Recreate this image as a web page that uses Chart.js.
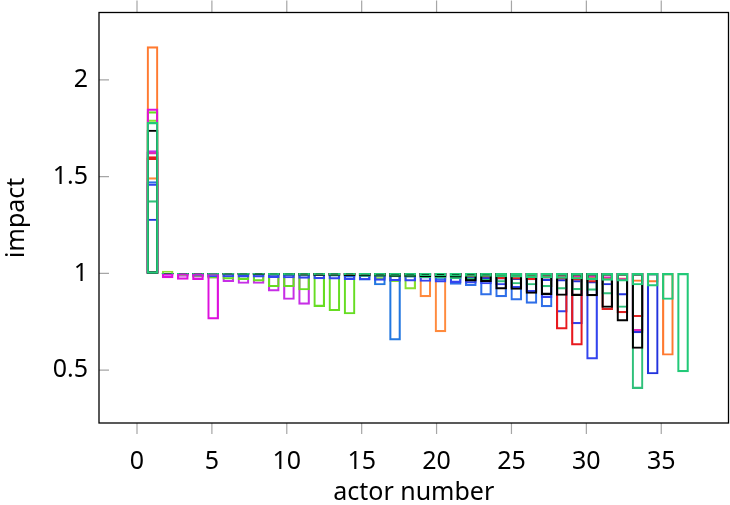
<!DOCTYPE html>
<html lang="en">
<head>
<meta charset="UTF-8">
<title>Actor impact</title>
<script src="https://cdn.jsdelivr.net/npm/chart.js@4"></script>
<style>
    body { margin: 0; background: #fff; }
    #wrap { width: 730px; height: 505px; }
</style>
</head>
<body>
<div id="wrap"><canvas id="impactChart" width="730" height="505"></canvas></div>
<script>
    // impact of each actor, one array per network, actor 1 first
    const netA = [1.780, 0.998, 0.997, 0.997, 0.996, 0.996, 0.995, 0.995, 0.994, 0.994, 0.993, 0.993, 0.992, 0.992, 0.991, 0.990, 0.990, 0.989, 0.988, 0.987, 0.986, 0.985, 0.984, 0.982, 0.980, 0.978, 0.976, 0.974, 0.971, 0.968, 0.964, 0.960, 0.940, 0.934, 0.865, 0.491];
    const netB = [1.376, 0.999, 0.998, 0.997, 0.996, 0.995, 0.994, 0.993, 0.992, 0.991, 0.990, 0.989, 0.988, 0.987, 0.985, 0.984, 0.982, 0.980, 0.978, 0.975, 0.972, 0.968, 0.962, 0.955, 0.945, 0.940, 0.930, 0.919, 0.915, 0.912, 0.893, 0.824, 0.405];
    const netC = [1.741, 0.999, 0.998, 0.998, 0.997, 0.996, 0.995, 0.994, 0.993, 0.992, 0.991, 0.990, 0.989, 0.988, 0.987, 0.986, 0.985, 0.984, 0.983, 0.982, 0.980, 0.960, 0.957, 0.919, 0.917, 0.896, 0.890, 0.886, 0.885, 0.884, 0.824, 0.753, 0.612];
    const netD = [2.172, 0.999, 0.999, 0.998, 0.998, 0.997, 0.997, 0.996, 0.992, 0.991, 0.990, 0.990, 0.989, 0.989, 0.988, 0.988, 0.987, 0.987, 0.986, 0.986, 0.985, 0.985, 0.984, 0.984, 0.983, 0.982, 0.981, 0.980, 0.977, 0.975, 0.972, 0.968, 0.958, 0.955, 0.577];
    const netE = [1.281, 0.998, 0.997, 0.996, 0.995, 0.994, 0.993, 0.992, 0.991, 0.990, 0.989, 0.988, 0.987, 0.986, 0.985, 0.984, 0.983, 0.982, 0.980, 0.978, 0.976, 0.974, 0.972, 0.970, 0.968, 0.966, 0.963, 0.960, 0.955, 0.950, 0.940, 0.888, 0.693, 0.480];
    const netF = [1.462, 0.996, 0.994, 0.990, 0.983, 0.982, 0.981, 0.980, 0.978, 0.976, 0.974, 0.972, 0.970, 0.968, 0.966, 0.964, 0.962, 0.960, 0.958, 0.955, 0.952, 0.950, 0.945, 0.940, 0.925, 0.905, 0.875, 0.800, 0.739, 0.557];
    const netG = [1.603, 0.998, 0.997, 0.997, 0.996, 0.996, 0.995, 0.995, 0.994, 0.993, 0.992, 0.991, 0.990, 0.989, 0.988, 0.987, 0.986, 0.985, 0.985, 0.984, 0.983, 0.982, 0.980, 0.972, 0.970, 0.968, 0.931, 0.712, 0.629];
    const netH = [1.595, 0.999, 0.998, 0.998, 0.997, 0.997, 0.996, 0.996, 0.995, 0.995, 0.994, 0.994, 0.993, 0.993, 0.992, 0.992, 0.991, 0.990, 0.989, 0.988, 0.987, 0.986, 0.985, 0.984, 0.982, 0.980, 0.975, 0.970, 0.965, 0.955, 0.812, 0.796, 0.776];
    const netI = [1.625, 0.999, 0.999, 0.998, 0.998, 0.998, 0.997, 0.997, 0.997, 0.996, 0.996, 0.996, 0.995, 0.995, 0.995, 0.994, 0.994, 0.993, 0.993, 0.992, 0.992, 0.991, 0.990, 0.989, 0.988, 0.987, 0.986, 0.985, 0.983, 0.980, 0.975, 0.965, 0.703];
    const netJ = [1.474, 0.999, 0.998, 0.998, 0.997, 0.997, 0.996, 0.996, 0.995, 0.995, 0.994, 0.993, 0.992, 0.991, 0.990, 0.988, 0.985, 0.980, 0.975, 0.965, 0.943, 0.936, 0.888, 0.879, 0.862, 0.845, 0.827];
    const netK = [1.495, 0.999, 0.998, 0.998, 0.997, 0.997, 0.996, 0.996, 0.995, 0.994, 0.993, 0.992, 0.991, 0.990, 0.989, 0.988, 0.986, 0.983, 0.879, 0.698];
    const netL = [1.627, 0.998, 0.997, 0.996, 0.995, 0.994, 0.993, 0.992, 0.991, 0.990, 0.989, 0.988, 0.986, 0.980, 0.965, 0.940, 0.655];
    const netM = [1.793, 1.012, 0.997, 0.996, 0.995, 0.994, 0.993, 0.992, 0.991, 0.990, 0.989, 0.988, 0.987, 0.986, 0.984, 0.970, 0.957, 0.919];
    const netN = [1.836, 0.995, 0.990, 0.985, 0.975, 0.970, 0.968, 0.960, 0.931, 0.931, 0.914, 0.828, 0.807, 0.790];
    const netO = [1.634, 0.990, 0.985, 0.980, 0.975, 0.957, 0.948, 0.948, 0.908, 0.865, 0.840];
    const netP = [1.850, 0.977, 0.969, 0.968, 0.764];

    const xTicks = [0, 5, 10, 15, 20, 25, 30, 35];
    const yTicks = [0.5, 1, 1.5, 2];

    // first entry is drawn on top
    const networks = [netA, netC, netB, netP, netG, netH, netI, netE, netF, netJ, netD, netK, netL, netM, netN, netO];
    const colors = ['#22c978', '#000000', '#2fc07a', '#dd11dd', '#e8191e', '#dd2222', '#e026b8', '#2233dd',
                    '#3344ee', '#2f6fe8', '#ff7a30', '#ff8a3d', '#2277e0', '#88e030', '#66dd22', '#c72ee6'];

    const datasets = networks.map((vals, i) => ({
        data: vals.map((v, k) => ({ x: k + 1, y: [1, v] })),
        xAxisID: 'actor',
        borderColor: colors[i],
        backgroundColor: 'rgba(0,0,0,0)',
        borderWidth: 1.5,
        borderSkipped: false,
        barThickness: 11,
        grouped: false
    }));

    const font = { family: 'Noto Sans', size: 25 };

    // box around the plot, ticks outside on x and inside on y
    const framePlugin = {
        id: 'frame',
        afterDatasetsDraw(chart) {
            const { ctx, chartArea: a, scales: { x, y } } = chart;
            ctx.save();
            ctx.strokeStyle = '#a6a6a6';
            ctx.lineWidth = 1.2;
            ctx.beginPath();
            xTicks.forEach(v => {
                const px = x.getPixelForValue(v);
                ctx.moveTo(px, a.bottom); ctx.lineTo(px, a.bottom + 11);
                ctx.moveTo(px, a.top - 12); ctx.lineTo(px, a.top);
            });
            yTicks.forEach(v => {
                const py = y.getPixelForValue(v);
                ctx.moveTo(a.left, py); ctx.lineTo(a.left + 10, py);
            });
            ctx.stroke();
            ctx.strokeStyle = '#000';
            ctx.lineWidth = 1.3;
            ctx.strokeRect(a.left, a.top, a.right - a.left, a.bottom - a.top);
            ctx.restore();
        }
    };

    new Chart(document.getElementById('impactChart'), {
        type: 'bar',
        data: { datasets },
        plugins: [framePlugin],
        options: {
            responsive: false,
            animation: false,
            devicePixelRatio: 1,
            layout: { padding: { top: 12.5, right: 1.5, bottom: 0, left: 0 } },
            plugins: { legend: { display: false }, tooltip: { enabled: false } },
            scales: {
                // bars sit on their own slightly wider actor axis
                actor: {
                    type: 'linear',
                    display: false,
                    offset: false,
                    min: -2.53,
                    max: 39.0
                },
                x: {
                    type: 'linear',
                    offset: false,
                    min: -2.537,
                    max: 39.49,
                    grid: { display: false, drawTicks: false },
                    border: { display: false },
                    ticks: { font, color: '#000', padding: 24, maxRotation: 0 },
                    afterBuildTicks: s => { s.ticks = xTicks.map(v => ({ value: v })); },
                    afterFit: s => { s.height = 82; s.paddingLeft = 0; s.paddingRight = 0; },
                    title: { display: true, text: 'actor number', font, color: '#000', padding: { top: 0, bottom: -3 } }
                },
                y: {
                    min: 0.227,
                    max: 2.348,
                    grid: { display: false, drawTicks: false },
                    border: { display: false },
                    ticks: { font, color: '#000', padding: 11, callback: v => String(v) },
                    afterBuildTicks: s => { s.ticks = yTicks.map(v => ({ value: v })); },
                    afterFit: s => { s.width = 99; s.paddingTop = 0; s.paddingBottom = 0; },
                    title: { display: true, text: 'impact', font, color: '#000', padding: { top: 2, bottom: 0 } }
                }
            }
        }
    });
</script>
</body>
</html>
